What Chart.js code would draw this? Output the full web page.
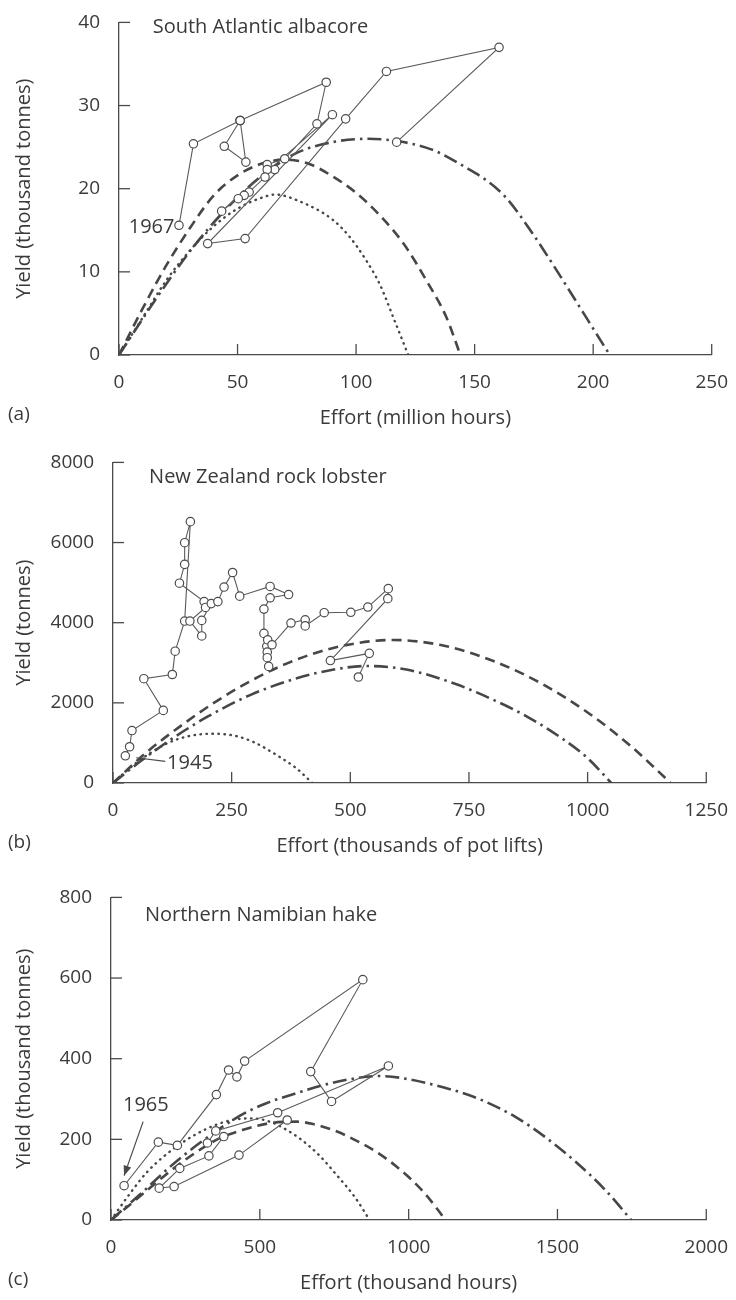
<!DOCTYPE html>
<html><head><meta charset="utf-8">
<script src="https://cdn.jsdelivr.net/npm/chart.js@4.4.1/dist/chart.umd.min.js"></script>
<style>
html,body{margin:0;padding:0;background:#fff;width:736px;height:1300px;overflow:hidden}
canvas{position:absolute;left:0}
</style></head><body>
<canvas id="ca" width="736" height="430" style="top:0px"></canvas>
<canvas id="cb" width="736" height="418" style="top:440px"></canvas>
<canvas id="cc" width="736" height="420" style="top:875px"></canvas>
<script>
// ---------- Panel (a): South Atlantic albacore ----------
const aTitle = 'South Atlantic albacore';
const aXTicks = [0, 50, 100, 150, 200, 250];
const aYTicks = [0, 10, 20, 30, 40];
const aEffort = [25.3, 31.4, 51.1, 87.4, 83.5, 69.9, 62.5, 65.7, 62.5, 61.6, 54.9, 52.8, 50.3, 43.3, 90.0, 37.4, 53.2, 95.6, 112.8, 160.3, 117.1];
const aYield  = [15.6, 25.4, 28.2, 32.8, 27.8, 23.6, 22.9, 22.3, 22.3, 21.4, 19.6, 19.2, 18.8, 17.3, 28.9, 13.4, 14.0, 28.4, 34.1, 37.0, 25.6];
const aLoopEffort = [51.1, 44.4, 53.5, 51.1];
const aLoopYield  = [28.2, 25.1, 23.2, 28.2];
const aDashDotEffort = [0, 15, 30, 45, 60, 75, 90, 105, 118, 132, 146, 155, 163, 174, 185, 196, 207];
const aDashDotYield  = [0, 6.5, 12.5, 17.5, 21.5, 24.3, 25.6, 26.0, 25.7, 24.7, 22.6, 21.0, 19.0, 14.8, 10.0, 5.0, 0];
const aDashedEffort = [0, 10, 20, 30, 40, 50, 60, 70, 80, 90, 100, 110, 120, 130, 138, 144];
const aDashedYield  = [0, 5.6, 10.8, 15.3, 19.2, 21.6, 23.0, 23.5, 23.0, 21.5, 19.5, 16.8, 13.4, 8.8, 4.6, 0];
const aDottedEffort = [0, 10, 20, 30, 40, 50, 60, 66, 76, 90, 97, 104, 110, 116, 122];
const aDottedYield  = [0, 4.5, 9, 12.6, 15.5, 17.6, 18.9, 19.3, 18.5, 16.3, 14.3, 11.5, 8.5, 4.3, 0];

// ---------- Panel (b): New Zealand rock lobster ----------
const bTitle = 'New Zealand rock lobster';
const bXTicks = [0, 250, 500, 750, 1000, 1250];
const bYTicks = [0, 2000, 4000, 6000, 8000];
const bEffort = [26, 35, 40, 106, 65, 125, 131, 151, 163, 151, 151, 140, 192, 195, 162, 187, 187, 207, 221, 234, 252, 267, 331, 370, 331, 318, 318, 324, 325, 325, 328, 326, 335, 375, 405, 405, 445, 501, 537, 580, 579, 458, 540, 517];
const bYield  = [679, 905, 1309, 1811, 2602, 2707, 3289, 4041, 6521, 5996, 5455, 4986, 4526, 4380, 4041, 3669, 4057, 4477, 4526, 4889, 5253, 4662, 4905, 4703, 4622, 4339, 3733, 3410, 3265, 3127, 2909, 3571, 3450, 3992, 4073, 3920, 4250, 4259, 4390, 4850, 4600, 3055, 3235, 2645];
const bDashedEffort = [0, 70, 140, 210, 280, 350, 420, 490, 590, 700, 800, 900, 1000, 1090, 1175];
const bDashedYield  = [0, 760, 1400, 1980, 2480, 2900, 3220, 3440, 3570, 3420, 3050, 2500, 1760, 930, 0];
const bDashDotEffort = [0, 60, 130, 200, 290, 389, 460, 534, 618, 722, 806, 875, 950, 1000, 1050];
const bDashDotYield  = [0, 560, 1150, 1660, 2200, 2620, 2820, 2920, 2830, 2470, 2050, 1640, 1080, 620, 0];
const bDottedEffort = [0, 40, 80, 120, 160, 210, 260, 300, 347, 385, 420];
const bDottedYield  = [0, 420, 760, 1020, 1170, 1230, 1170, 1000, 680, 380, 0];

// ---------- Panel (c): Northern Namibian hake ----------
const cTitle = 'Northern Namibian hake';
const cXTicks = [0, 500, 1000, 1500, 2000];
const cYTicks = [0, 200, 400, 600, 800];
const cEffort = [44, 159, 223, 354, 395, 423, 449, 846, 671, 741, 932, 560, 352, 324, 379, 329, 231, 162, 212, 430, 592];
const cYield  = [85, 193, 185, 311, 372, 355, 394, 596, 368, 294, 382, 266, 221, 191, 207, 159, 128, 79, 83, 161, 248];
const cDashDotEffort = [0, 100, 200, 300, 432, 520, 612, 767, 902, 968, 1136, 1250, 1360, 1460, 1560, 1660, 1748];
const cDashDotYield  = [0, 65, 133, 192, 258, 289, 312, 344, 357, 353, 325, 296, 255, 205, 145, 75, 0];
const cDashedEffort = [0, 80, 180, 270, 366, 450, 533, 623, 679, 750, 824, 893, 960, 1052, 1124];
const cDashedYield  = [0, 48, 110, 160, 203, 225, 240, 244, 238, 222, 197, 168, 132, 68, 0];
const cDottedEffort = [0, 60, 120, 220, 321, 400, 477, 540, 589, 640, 700, 760, 820, 869];
const cDottedYield  = [0, 62, 118, 182, 226, 247, 252, 242, 224, 199, 160, 110, 56, 0];

// ---------- Styling ----------
const FONT = "'Open Sans', 'Noto Sans', sans-serif";
const INK = '#3a3a3a';
const AXIS = '#4a4a4a';
const CURVE = '#474747';

const pts = (xs, ys) => xs.map((x, i) => ({x, y: ys[i]}));

function pathSet(xs, ys) {
  return {data: pts(xs, ys), showLine: true, borderColor: '#5a5a5a', borderWidth: 1.1,
    pointRadius: 4.2, pointBackgroundColor: '#fff', pointBorderColor: '#4d4d4d',
    pointBorderWidth: 1.2, order: 0};
}
function curveSet(xs, ys, kind) {
  const dash = kind === 'dashed' ? [10, 6] : kind === 'dashdot' ? [14, 5, 2.5, 5] : [0.5, 5.5];
  return {data: pts(xs, ys), showLine: true, borderColor: CURVE,
    borderWidth: kind === 'dotted' ? 2.4 : 2.6, borderDash: dash,
    borderCapStyle: kind === 'dotted' ? 'round' : 'butt',
    cubicInterpolationMode: 'monotone', pointRadius: 0, order: 1};
}

const decorPlugin = {
  id: 'decor',
  afterDatasetsDraw(chart, args, o) {
    const {ctx, chartArea: ca, scales: {x, y}} = chart;
    ctx.save();
    ctx.strokeStyle = AXIS; ctx.lineWidth = 1.3;
    for (const t of y.ticks) {
      const p = y.getPixelForValue(t.value);
      ctx.beginPath(); ctx.moveTo(ca.left, p); ctx.lineTo(ca.left + 11, p); ctx.stroke();
    }
    for (const t of x.ticks) {
      const p = x.getPixelForValue(t.value);
      ctx.beginPath(); ctx.moveTo(p, ca.bottom); ctx.lineTo(p, ca.bottom - 11); ctx.stroke();
    }
    ctx.fillStyle = INK;
    ctx.textBaseline = 'middle';
    for (const t of o.texts) {
      ctx.font = `${t.size}px ${FONT}`;
      ctx.textAlign = t.align;
      ctx.fillText(t.text, x.getPixelForValue(t.x), y.getPixelForValue(t.y));
    }
    for (const l of o.leaders) {
      const x0 = x.getPixelForValue(l.x0), y0 = y.getPixelForValue(l.y0);
      const x1 = x.getPixelForValue(l.x1), y1 = y.getPixelForValue(l.y1);
      ctx.strokeStyle = '#4a4a4a'; ctx.lineWidth = 1.2;
      ctx.beginPath(); ctx.moveTo(x0, y0); ctx.lineTo(x1, y1); ctx.stroke();
      if (l.arrow) {
        const a = Math.atan2(y1 - y0, x1 - x0), L = 10, W = 4;
        ctx.fillStyle = '#4a4a4a';
        ctx.beginPath();
        ctx.moveTo(x1, y1);
        ctx.lineTo(x1 - L * Math.cos(a) + W * Math.sin(a), y1 - L * Math.sin(a) - W * Math.cos(a));
        ctx.lineTo(x1 - L * Math.cos(a) - W * Math.sin(a), y1 - L * Math.sin(a) + W * Math.cos(a));
        ctx.closePath(); ctx.fill();
        ctx.fillStyle = INK;
      }
    }
    ctx.font = `19px ${FONT}`;
    ctx.textAlign = 'left';
    ctx.fillText(o.letter, 8, ca.bottom + 60);
    ctx.restore();
  }
};

function makePanel(id, p) {
  return new Chart(document.getElementById(id), {
    type: 'scatter',
    data: {datasets: p.datasets},
    plugins: [decorPlugin],
    options: {
      responsive: false, animation: false, events: [],
      layout: {padding: {top: p.padTop, right: p.padRight, left: 0, bottom: 0}},
      plugins: {legend: {display: false}, tooltip: {enabled: false}, decor: p.decor},
      scales: {
        x: {
          type: 'linear', min: 0, max: p.xTicks[p.xTicks.length - 1],
          afterBuildTicks: s => { s.ticks = p.xTicks.map(v => ({value: v})); },
          afterFit: s => { s.height = 75; },
          grid: {display: false},
          border: {display: true, color: AXIS, width: 1.3},
          ticks: {color: INK, font: {family: FONT, size: 19}, padding: 8, maxRotation: 0,
                  autoSkip: false, callback: v => String(v)},
          title: {display: true, text: p.xTitle, color: INK, font: {family: FONT, size: 20},
                  padding: {top: 0, bottom: 0}}
        },
        y: {
          type: 'linear', min: 0, max: p.yTicks[p.yTicks.length - 1],
          afterBuildTicks: s => { s.ticks = p.yTicks.map(v => ({value: v})); },
          afterFit: s => { s.width = p.yWidth; },
          grid: {display: false},
          border: {display: true, color: AXIS, width: 1.3},
          ticks: {color: INK, font: {family: FONT, size: 19}, padding: 11,
                  autoSkip: false, callback: v => String(v)},
          title: {display: true, text: p.yTitle, color: INK, font: {family: FONT, size: 20},
                  padding: {top: 12, bottom: 0}}
        }
      }
    }
  });
}

makePanel('ca', {
  xTicks: aXTicks, yTicks: aYTicks, padTop: 18, padRight: 20, yWidth: 119,
  xTitle: 'Effort (million hours)', yTitle: 'Yield (thousand tonnes)',
  datasets: [
    pathSet(aEffort, aYield), pathSet(aLoopEffort, aLoopYield),
    curveSet(aDashDotEffort, aDashDotYield, 'dashdot'),
    curveSet(aDashedEffort, aDashedYield, 'dashed'),
    curveSet(aDottedEffort, aDottedYield, 'dotted')
  ],
  decor: {
    letter: '(a)',
    texts: [
      {text: aTitle, x: 14.2, y: 39.4, align: 'left', size: 20},
      {text: '1967', x: 23.4, y: 15.4, align: 'right', size: 20}
    ],
    leaders: []
  }
});

makePanel('cb', {
  xTicks: bXTicks, yTicks: bYTicks, padTop: 13, padRight: 23, yWidth: 113,
  xTitle: 'Effort (thousands of pot lifts)', yTitle: 'Yield (tonnes)',
  datasets: [
    pathSet(bEffort, bYield),
    curveSet(bDashedEffort, bDashedYield, 'dashed'),
    curveSet(bDashDotEffort, bDashDotYield, 'dashdot'),
    curveSet(bDottedEffort, bDottedYield, 'dotted')
  ],
  decor: {
    letter: '(b)',
    texts: [
      {text: bTitle, x: 76, y: 7640, align: 'left', size: 20},
      {text: '1945', x: 114, y: 485, align: 'left', size: 20}
    ],
    leaders: [{x0: 49, y0: 630, x1: 110, y1: 541, arrow: false}]
  }
});

makePanel('cc', {
  xTicks: cXTicks, yTicks: cYTicks, padTop: 17, padRight: 29, yWidth: 111,
  xTitle: 'Effort (thousand hours)', yTitle: 'Yield (thousand tonnes)',
  datasets: [
    pathSet(cEffort, cYield),
    curveSet(cDashDotEffort, cDashDotYield, 'dashdot'),
    curveSet(cDashedEffort, cDashedYield, 'dashed'),
    curveSet(cDottedEffort, cDottedYield, 'dotted')
  ],
  decor: {
    letter: '(c)',
    texts: [
      {text: cTitle, x: 114, y: 756, align: 'left', size: 20},
      {text: '1965', x: 117, y: 285, align: 'center', size: 20}
    ],
    leaders: [{x0: 108, y0: 244, x1: 44, y1: 110, arrow: true}]
  }
});
</script>
</body></html>
